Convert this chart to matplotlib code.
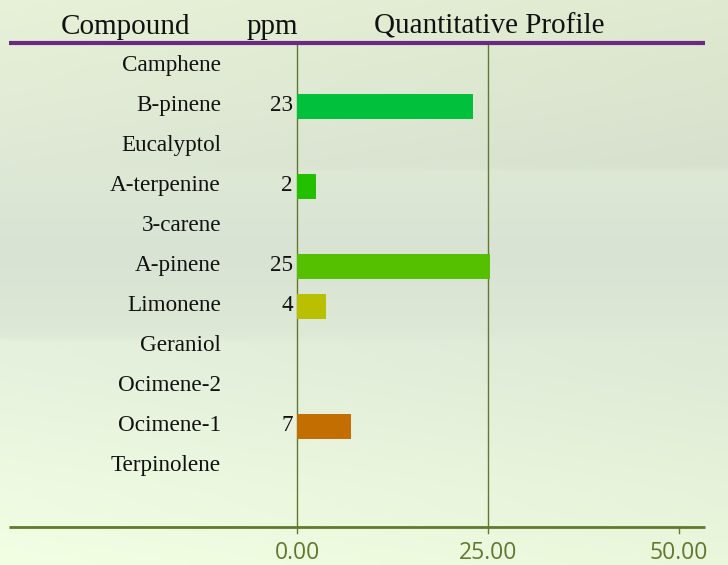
import matplotlib
matplotlib.use("Agg")
import matplotlib.pyplot as plt
import numpy as np

compounds = ["Camphene", "B-pinene", "Eucalyptol", "A-terpenine", "3-carene",
             "A-pinene", "Limonene", "Geraniol", "Ocimene-2", "Ocimene-1",
             "Terpinolene"]
ppm = [0, 23.1, 0, 2.5, 0, 25.2, 3.8, 0, 0, 7.1, 0]
bar_colors = ["#00c03c", "#00c03c", "#00c03c", "#22c000", "#22c000",
              "#55c000", "#b8c000", "#b8c000", "#c26e00", "#c26e00",
              "#c26e00"]
ticks = [0, 25, 50]
tick_labels = ["0.00", "25.00", "50.00"]

W, H = 728, 565
fig = plt.figure(figsize=(W / 100, H / 100), dpi=100)

# soft green background
bg = fig.add_axes([0, 0, 1, 1])
bg.set_axis_off()
yy, xx = np.mgrid[0:1:120j, 0:1:150j]
top = np.array([0.92, 0.96, 0.85])
mid = np.array([0.85, 0.89, 0.83])
bot = np.array([0.92, 0.97, 0.86])
t = np.clip(np.abs(yy - 0.45) / 0.55, 0, 1)[..., None]
img = mid * (1 - t) + np.where(yy[..., None] < 0.45, top, bot) * t
img = img + 0.03 * (1 - xx[..., None]) * (yy[..., None] > 0.6)
img = img - 0.03 * xx[..., None] * (yy[..., None] < 0.3)
bg.imshow(np.clip(img, 0, 1), extent=[0, 1, 0, 1], aspect="auto",
          interpolation="bicubic")

# data axes spanning the whole figure: 0 at px 297, 25 at px 488
px_per = (488 - 297) / 25.0
ax = fig.add_axes([0, 0, 1, 1])
ax.patch.set_alpha(0)
ax.set_xlim(-297 / px_per, (W - 297) / px_per)
row0, step = 64, 40
ax.set_ylim((H - row0) / step, -row0 / step)
ax.set_axis_off()

rows = np.arange(len(compounds))
ax.barh(rows + 0.06, ppm, height=0.62, left=0, color=bar_colors, zorder=3)

ylo = (43 - row0) / step
yhi = (527 - row0) / step
for v in ticks[:2]:
    ax.plot([v, v], [ylo, yhi + 0.15], color="#5f7a30", lw=1, zorder=2)
ax.plot([ticks[2], ticks[2]], [yhi, yhi + 0.15], color="#5f7a30", lw=1, zorder=2)

xl = (9 - 297) / px_per
xr = (705 - 297) / px_per
ax.plot([xl, xr], [ylo, ylo], color="#6b2a82", lw=3, zorder=4,
        solid_capstyle="butt")
ax.plot([xl, xr], [yhi, yhi], color="#5f7a30", lw=2, zorder=4,
        solid_capstyle="butt")

serif = "Liberation Serif"
base = 6.7 / step
for i, (name, v) in enumerate(zip(compounds, ppm)):
    ax.text((221 - 297) / px_per, i + base, name, ha="right", va="baseline",
            fontsize=16.7, family=serif, color="#111111")
    if v > 0:
        ax.text(-0.55, i + base, f"{v:.0f}", ha="right", va="baseline",
                fontsize=16.7, family=serif, color="#111111")

for v, lab in zip(ticks, tick_labels):
    ax.text(v, (559 - row0) / step, lab, ha="center", va="baseline",
            fontsize=16.5, family="Open Sans", color="#5f7a30")

hy = (34 - row0) / step
ax.text((125 - 297) / px_per, hy, "Compound", ha="center", va="baseline",
        fontsize=21, family=serif, color="#111111")
ax.text((272 - 297) / px_per, hy, "ppm", ha="center", va="baseline",
        fontsize=21, family=serif, color="#111111")
ax.text((489 - 297) / px_per, hy, "Quantitative Profile", ha="center",
        va="baseline", fontsize=21, family=serif, color="#111111")

fig.savefig("out.png", dpi=100)
